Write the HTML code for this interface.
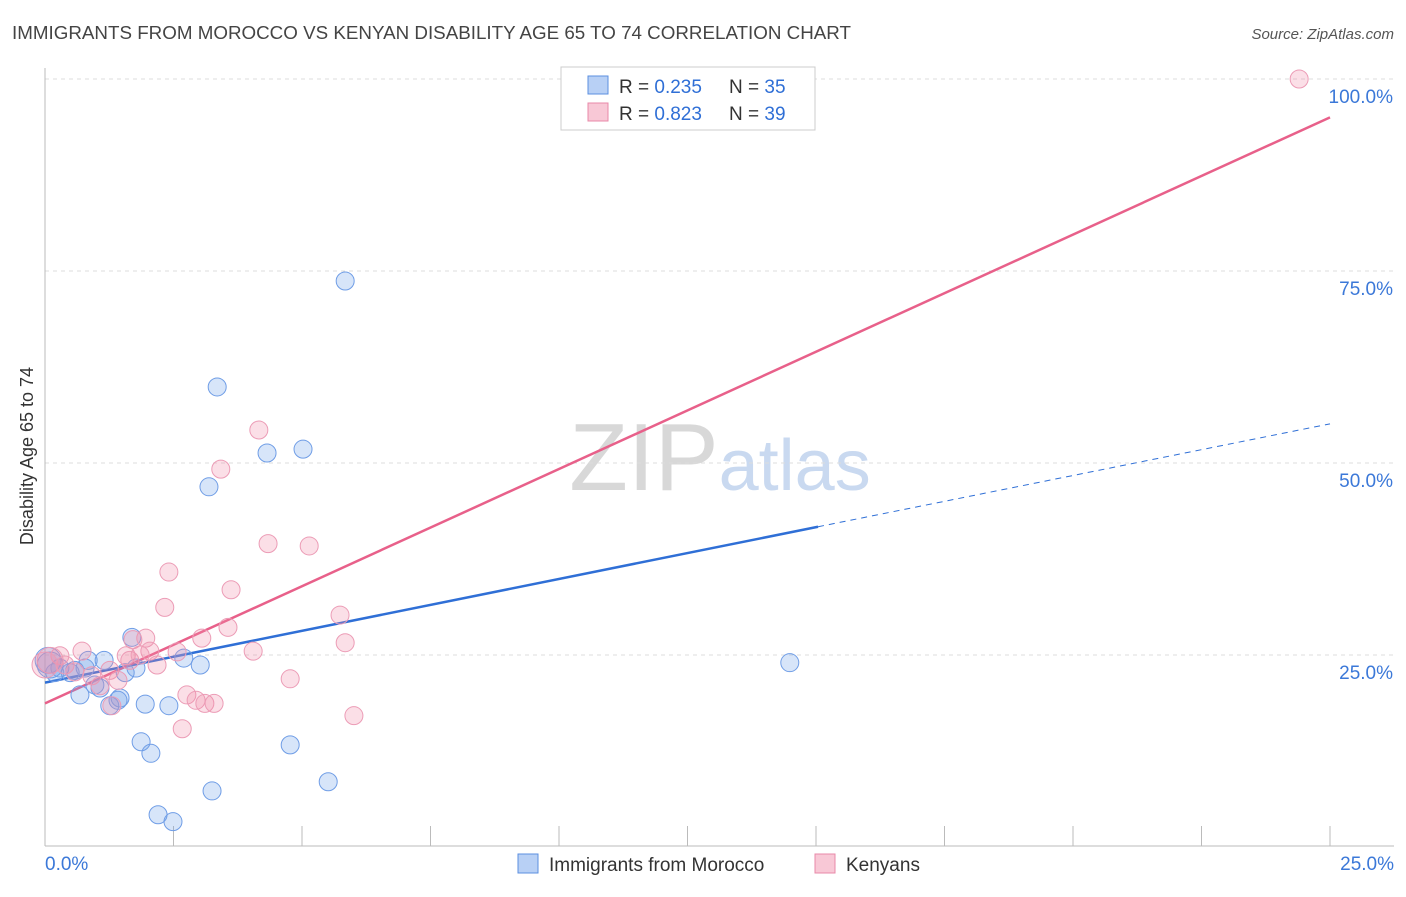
<!DOCTYPE html>
<html><head><meta charset="utf-8"><style>
body{margin:0;background:#fff;font-family:"Liberation Sans",sans-serif;}
svg text{font-family:"Liberation Sans",sans-serif;}
</style></head><body>
<svg id="chart" width="1406" height="892" xmlns="http://www.w3.org/2000/svg">
<text x="12" y="39" font-size="18" fill="#444" textLength="839" lengthAdjust="spacingAndGlyphs">IMMIGRANTS FROM MOROCCO VS KENYAN DISABILITY AGE 65 TO 74 CORRELATION CHART</text>
<text x="1394" y="39" font-size="15" fill="#555" text-anchor="end" font-style="italic">Source: ZipAtlas.com</text>
<text x="720" y="490" font-size="96" fill="#ddd" text-anchor="middle" font-family="Liberation Serif"><tspan fill="#d8d8d8">ZIP</tspan><tspan fill="#c9d9f0" font-family="Liberation Sans" font-size="72">atlas</tspan></text>
<text transform="translate(33,456) rotate(-90)" font-size="18" fill="#333" text-anchor="middle">Disability Age 65 to 74</text>
<g id="grid"></g><g id="axes"></g><g id="lines"></g><g id="dots"></g>
<g>
<rect x="561" y="67" width="254" height="63" fill="#fff" stroke="#ccc"/>
<rect x="588" y="76" width="20" height="18" fill="#b8d0f5" stroke="#5b8fe0"/>
<text x="619" y="93" font-size="19" fill="#333">R = <tspan fill="#2f6fd6">0.235</tspan></text>
<text x="729" y="93" font-size="19" fill="#333">N = <tspan fill="#2f6fd6">35</tspan></text>
<rect x="588" y="103" width="20" height="18" fill="#f8c8d6" stroke="#e889a8"/>
<text x="619" y="120" font-size="19" fill="#333">R = <tspan fill="#2f6fd6">0.823</tspan></text>
<text x="729" y="120" font-size="19" fill="#333">N = <tspan fill="#2f6fd6">39</tspan></text>
</g>
<g>
<rect x="518" y="854" width="20" height="19" fill="#b8d0f5" stroke="#5b8fe0"/>
<text x="549" y="871" font-size="19" fill="#333">Immigrants from Morocco</text>
<rect x="815" y="854" width="20" height="19" fill="#f8c8d6" stroke="#e889a8"/>
<text x="846" y="871" font-size="19" fill="#333">Kenyans</text>
</g>
</svg>
<script>
const blueX=[5.84,3.35,4.32,5.02,3.19,14.49,1.69,1.15,0.84,2.70,3.02,1.77,1.56,0.19,0.29,0.49,0.58,0.78,0.97,1.07,0.68,1.46,1.26,1.95,2.41,1.42,1.87,2.06,4.77,5.51,3.25,2.20,2.49,0.10,0.06];
const blueY=[73.7,59.9,51.3,51.8,46.9,24.0,27.3,24.3,24.3,24.6,23.7,23.3,22.7,22.7,23.3,22.7,23.0,23.3,21.1,20.7,19.8,19.4,18.4,18.6,18.4,19.1,13.7,12.2,13.3,8.5,7.3,4.2,3.3,23.7,24.3];
const pinkX=[24.40,4.16,3.42,4.34,5.14,2.41,3.62,2.33,5.74,3.56,5.84,1.96,1.71,3.05,0.72,1.58,2.04,2.57,4.05,2.18,1.26,0.91,0.29,4.77,2.76,2.94,3.11,3.29,1.42,1.30,2.67,6.01,0.10,0.0,0.39,0.58,1.07,1.65,1.85];
const pinkY=[100,54.3,49.2,39.5,39.2,35.8,33.5,31.2,30.2,28.6,26.6,27.2,27.0,27.2,25.5,24.9,25.5,25.4,25.5,23.7,23.0,22.3,24.9,21.9,19.8,19.1,18.7,18.7,21.7,18.4,15.4,17.1,24.3,23.7,23.7,22.8,21.0,24.3,25.0];
const blueLine=[21.4,41.7,55.1];
const blueSolidEnd=15.04;
const pinkLine=[18.7,95.0];
const yTicks=[25,50,75,100];
const xTickLabels=["0.0%","25.0%"];
const NS="http://www.w3.org/2000/svg";
const sx=v=>45+v/25*1285;
const sy=v=>847-v/100*768;
function mk(tag,attrs,parent){const e=document.createElementNS(NS,tag);for(const k in attrs)e.setAttribute(k,attrs[k]);document.getElementById(parent).appendChild(e);return e;}
yTicks.forEach(t=>{
 const l=mk('line',{x1:45,x2:1394,y1:sy(t),y2:sy(t),stroke:'#ddd','stroke-dasharray':'4,4'},'grid');
 
 
 const tx=mk('text',{x:1393,y:sy(t)+24,'font-size':19,fill:'#3b78d8','text-anchor':'end'},'grid');
 tx.textContent=t.toFixed(1)+'%';
 
 
});
const ax=mk('line',{x1:45,x2:45,y1:68,y2:846,stroke:'#bbb'},'axes');


const bx=mk('line',{x1:45,x2:1394,y1:846,y2:846,stroke:'#bbb'},'axes');


for(let i=0;i<=10;i++){
 const t=mk('line',{x1:sx(i*2.5),x2:sx(i*2.5),y1:826,y2:846,stroke:'#bbb'},'axes');
 
 
}
[[0,'start',45],[25,'end',1394]].forEach((d,i)=>{
 const tx=mk('text',{x:d[2],y:870,'font-size':19,fill:'#3b78d8','text-anchor':d[1]},'axes');
 tx.textContent=xTickLabels[i];
 
 
});
function dots(xs,ys,fill,stroke,name){
 xs.forEach((x,i)=>{
  const r=(x<0.15)?13:9;
  const c=mk('circle',{cx:sx(x),cy:sy(ys[i]),r:r,fill:fill,stroke:stroke,'stroke-width':1},'dots');
  
  
 });
}
dots(blueX,blueY,'rgba(110,160,235,0.28)','#6f9de6','morocco-point');
dots(pinkX,pinkY,'rgba(240,140,170,0.28)','#ec9cb6','kenyan-point');
const b1=mk('line',{x1:sx(0),y1:sy(blueLine[0]),x2:sx(blueSolidEnd),y2:sy(blueLine[1]),stroke:'#2f6fd6','stroke-width':2.5},'lines');


const b2=mk('line',{x1:sx(blueSolidEnd),y1:sy(blueLine[1]),x2:sx(25),y2:sy(blueLine[2]),stroke:'#2f6fd6','stroke-width':1,'stroke-dasharray':'6,5'},'lines');


const p1=mk('line',{x1:sx(0),y1:sy(pinkLine[0]),x2:sx(25),y2:sy(pinkLine[1]),stroke:'#e8608a','stroke-width':2.5},'lines');


</script>
</body></html>
